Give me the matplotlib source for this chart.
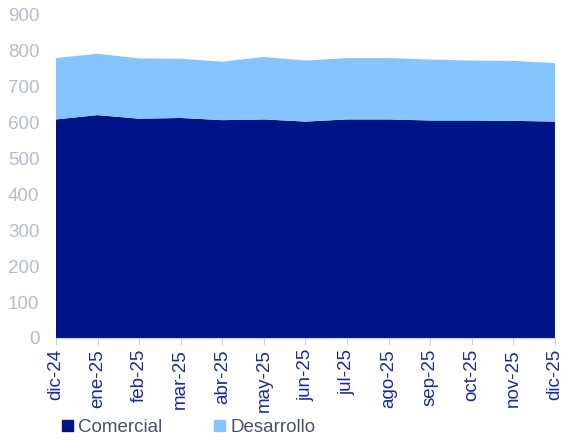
import matplotlib
matplotlib.use('Agg')
import matplotlib.pyplot as plt
from matplotlib.patches import Patch

meses = ['dic-24', 'ene-25', 'feb-25', 'mar-25', 'abr-25', 'may-25', 'jun-25',
         'jul-25', 'ago-25', 'sep-25', 'oct-25', 'nov-25', 'dic-25']
comercial = [609, 621, 611, 613, 607, 609, 603, 609, 609, 606, 606, 605, 603]
desarrollo = [171, 171, 168, 165, 163, 174, 170, 171, 171, 170, 167, 167, 163]

c_com = '#001489'
c_des = '#84c5ff'

plt.rcParams['font.family'] = ['Liberation Sans', 'DejaVu Sans']

fig = plt.figure(figsize=(5.62, 4.41), dpi=100)
ax = fig.add_axes([0.0996, 0.2336, 0.8879, 0.7324])

x = list(range(len(meses)))
ax.stackplot(x, comercial, desarrollo, colors=[c_com, c_des], linewidth=0)

ax.set_xlim(0, len(meses) - 1)
ax.set_ylim(0, 900)
ax.set_yticks(range(0, 901, 100))
ax.set_xticks(x)
ax.set_xticklabels(meses, rotation=90)

for s in ['top', 'right', 'left']:
    ax.spines[s].set_visible(False)
ax.spines['bottom'].set_color('#c8ced8')
ax.tick_params(axis='y', length=0, labelsize=13.5, labelcolor='#b4bcc8', pad=12)
ax.tick_params(axis='x', length=5, color='#c8ced8', labelsize=13.5,
               labelcolor='#1a2a9a', pad=3)

handles = [Patch(color=c_com, label='Comercial'),
           Patch(color=c_des, label='Desarrollo')]
leg = fig.legend(handles=handles, loc='center left', bbox_to_anchor=(0.110, 0.03),
                 ncol=2, frameon=False, fontsize=13.5, handlelength=0.57,
                 handleheight=0.57, handletextpad=0.27, columnspacing=2.8,
                 borderpad=0, borderaxespad=0)
for t in leg.get_texts():
    t.set_color('#4a5070')

fig.savefig('out.png', dpi=100)
